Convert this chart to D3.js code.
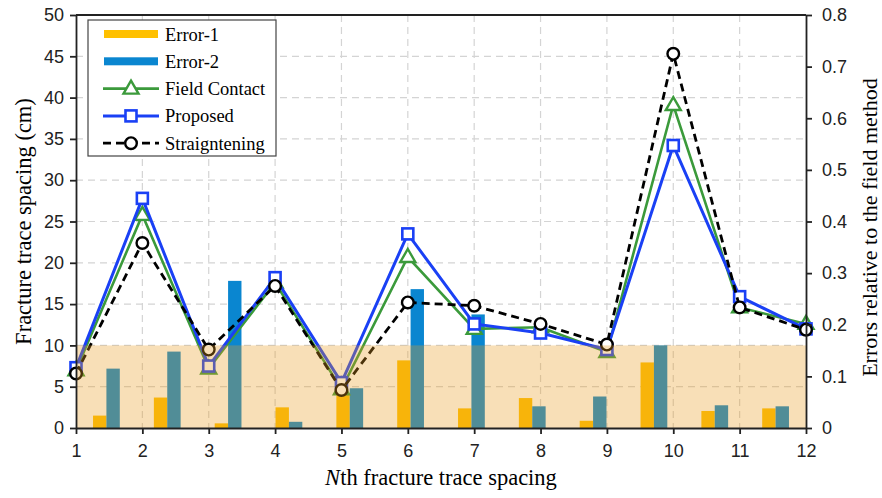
<!DOCTYPE html>
<html>
<head>
<meta charset="utf-8">
<script src="https://cdn.jsdelivr.net/npm/d3@7"></script>
<style>
  body { margin: 0; background: #fff; }
  svg { font-family: "Liberation Serif", "Times New Roman", serif; }
  .grid line { stroke: #d4d4d4; stroke-dasharray: 7,5; stroke-width: 1.2; }
  .axis path, .axis line { stroke: #222; stroke-width: 1.8; }
  .axis text { font-size: 18px; fill: #222; }
</style>
</head>
<body>
<div id="chart"></div>
<script>
// Values
const spacings = [1, 2, 3, 4, 5, 6, 7, 8, 9, 10, 11, 12];
const fieldContact = [7.0, 25.8, 7.2, 17.6, 4.7, 20.7, 12.0, 12.2, 9.2, 39.1, 14.6, 12.6];
const proposed = [7.3, 27.8, 7.5, 18.2, 5.5, 23.5, 12.6, 11.5, 9.5, 34.2, 15.9, 12.0];
const straightening = [6.6, 22.4, 9.5, 17.2, 4.6, 15.2, 14.8, 12.6, 10.1, 45.3, 14.6, 11.9];
const error1 = [0.024, 0.059, 0.009, 0.040, 0.066, 0.131, 0.038, 0.058, 0.014, 0.127, 0.033, 0.038];
const error2 = [0.115, 0.148, 0.285, 0.012, 0.077, 0.269, 0.220, 0.042, 0.061, 0.160, 0.044, 0.042];
const leftTicks = [0, 5, 10, 15, 20, 25, 30, 35, 40, 45, 50];
const rightTicks = [0, 0.1, 0.2, 0.3, 0.4, 0.5, 0.6, 0.7, 0.8];
const shadeLimit = 10;

const width = 882, height = 498;
const margin = { top: 15, right: 76, bottom: 70, left: 76 };
const plotW = width - margin.left - margin.right;
const plotH = height - margin.top - margin.bottom;

const svg = d3.select('#chart').append('svg')
    .attr('width', width)
    .attr('height', height);

const g = svg.append('g')
    .attr('transform', `translate(${margin.left},${margin.top})`);

const x = d3.scaleLinear().domain([1, 12]).range([0, plotW]);
const y = d3.scaleLinear().domain([0, 50]).range([plotH, 0]);
const yR = d3.scaleLinear().domain([0, 0.8]).range([plotH, 0]);

// bars sit in 12 equal bands across the plot
const xBand = d3.scaleBand().domain(spacings).range([0, plotW]);
const barW = xBand.bandwidth() * 0.22;

// Grid
g.append('g').attr('class', 'grid')
    .selectAll('line')
    .data(leftTicks.filter(d => d > 0 && d < 50))
    .enter().append('line')
    .attr('x1', 0).attr('x2', plotW)
    .attr('y1', d => y(d)).attr('y2', d => y(d));

g.append('g').attr('class', 'grid')
    .selectAll('line')
    .data(spacings.slice(1, -1))
    .enter().append('line')
    .attr('x1', d => x(d)).attr('x2', d => x(d))
    .attr('y1', 0).attr('y2', plotH);

// Bars
const barData = spacings.map((s, i) => ({ s, e1: error1[i], e2: error2[i] }));
const bars = g.append('g');
bars.selectAll('rect.e1')
    .data(barData)
    .enter().append('rect')
    .attr('class', 'e1')
    .attr('x', d => xBand(d.s) + xBand.bandwidth() / 2 - barW)
    .attr('width', barW)
    .attr('y', d => yR(d.e1))
    .attr('height', d => plotH - yR(d.e1))
    .attr('fill', '#ffc000');
bars.selectAll('rect.e2')
    .data(barData)
    .enter().append('rect')
    .attr('class', 'e2')
    .attr('x', d => xBand(d.s) + xBand.bandwidth() / 2)
    .attr('width', barW)
    .attr('y', d => yR(d.e2))
    .attr('height', d => plotH - yR(d.e2))
    .attr('fill', '#0a86d0');

// Lines
const series = [
    { name: 'Field Contact', values: fieldContact, color: '#3b9a3b', width: 2.6, dash: null, marker: 'triangle' },
    { name: 'Proposed', values: proposed, color: '#1a40f5', width: 3, dash: null, marker: 'square' },
    { name: 'Straigntening', values: straightening, color: '#000', width: 2.8, dash: '8,5', marker: 'circle' }
];

const line = d3.line()
    .x(d => x(d.s))
    .y(d => y(d.v));

function drawMarker(sel, type, color) {
    if (type === 'triangle') {
        sel.append('path')
            .attr('d', 'M0,-8 L7.5,5 L-7.5,5 Z')
            .attr('fill', '#fff').attr('stroke', color).attr('stroke-width', 2.4);
    } else if (type === 'square') {
        sel.append('rect')
            .attr('x', -5.5).attr('y', -5.5).attr('width', 11).attr('height', 11)
            .attr('fill', '#fff').attr('stroke', color).attr('stroke-width', 2.6);
    } else {
        sel.append('circle')
            .attr('r', 5.8)
            .attr('fill', '#fff').attr('stroke', color).attr('stroke-width', 2.4);
    }
}

series.forEach(sr => {
    const pts = spacings.map((s, i) => ({ s, v: sr.values[i] }));
    g.append('path')
        .datum(pts)
        .attr('d', line)
        .attr('fill', 'none')
        .attr('stroke', sr.color)
        .attr('stroke-width', sr.width)
        .attr('stroke-dasharray', sr.dash);
    g.append('g').selectAll('g')
        .data(pts)
        .enter().append('g')
        .attr('transform', d => `translate(${x(d.s)},${y(d.v)})`)
        .each(function () { drawMarker(d3.select(this), sr.marker, sr.color); });
});

// Shaded band below 10 cm, drawn over everything
g.append('rect')
    .attr('x', 0).attr('width', plotW)
    .attr('y', y(shadeLimit)).attr('height', plotH - y(shadeLimit))
    .attr('fill', '#e89a20')
    .attr('opacity', 0.32);

// Axes
g.append('g').attr('class', 'axis')
    .attr('transform', `translate(0,${plotH})`)
    .call(d3.axisBottom(x).tickValues(spacings).tickFormat(d3.format('d')).tickSize(6).tickPadding(10).tickSizeOuter(0));

g.append('g').attr('class', 'axis')
    .call(d3.axisLeft(y).tickValues(leftTicks).tickSize(6).tickPadding(6).tickSizeOuter(0));

g.append('g').attr('class', 'axis')
    .attr('transform', `translate(${plotW},0)`)
    .call(d3.axisRight(yR).tickValues(rightTicks).tickFormat(d3.format('~g')).tickSize(6).tickPadding(10).tickSizeOuter(0));

g.append('line')
    .attr('x1', 0).attr('x2', plotW).attr('y1', 0).attr('y2', 0)
    .attr('stroke', '#222').attr('stroke-width', 1.8);

// Axis titles
svg.append('text')
    .attr('transform', `translate(31,${margin.top + plotH / 2}) rotate(-90)`)
    .attr('text-anchor', 'middle')
    .style('font-size', '22.5px')
    .text('Fracture trace spacing (cm)');

svg.append('text')
    .attr('transform', `translate(877,${margin.top + plotH / 2 + 6}) rotate(-90)`)
    .attr('text-anchor', 'middle')
    .style('font-size', '22px')
    .text('Errors relative to the field method');

const xt = svg.append('text')
    .attr('x', margin.left + plotW / 2)
    .attr('y', 485)
    .attr('text-anchor', 'middle')
    .style('font-size', '22.5px');
xt.append('tspan').style('font-style', 'italic').text('N');
xt.append('tspan').text('th fracture trace spacing');

// Legend
const legend = svg.append('g').attr('transform', 'translate(88,20)');
legend.append('rect')
    .attr('width', 188).attr('height', 136)
    .attr('fill', '#fff').attr('stroke', '#444').attr('stroke-width', 1.2);

const legendItems = [
    { name: 'Error-1', type: 'bar', color: '#ffc000' },
    { name: 'Error-2', type: 'bar', color: '#0a86d0' },
    ...series.map(sr => ({ name: sr.name, type: 'line', sr }))
];

legendItems.forEach((item, i) => {
    const row = legend.append('g').attr('transform', `translate(0,${14 + i * 27.3})`);
    if (item.type === 'bar') {
        row.append('rect')
            .attr('x', 16).attr('y', -4).attr('width', 54).attr('height', 8)
            .attr('fill', item.color);
    } else {
        row.append('line')
            .attr('x1', 15).attr('x2', 71).attr('y1', 0).attr('y2', 0)
            .attr('stroke', item.sr.color)
            .attr('stroke-width', item.sr.width)
            .attr('stroke-dasharray', item.sr.dash);
        const m = row.append('g').attr('transform', 'translate(43,0)');
        drawMarker(m, item.sr.marker, item.sr.color);
    }
    row.append('text')
        .attr('x', 77).attr('y', 6.5)
        .style('font-size', '18.5px')
        .text(item.name);
});
</script>
</body>
</html>
